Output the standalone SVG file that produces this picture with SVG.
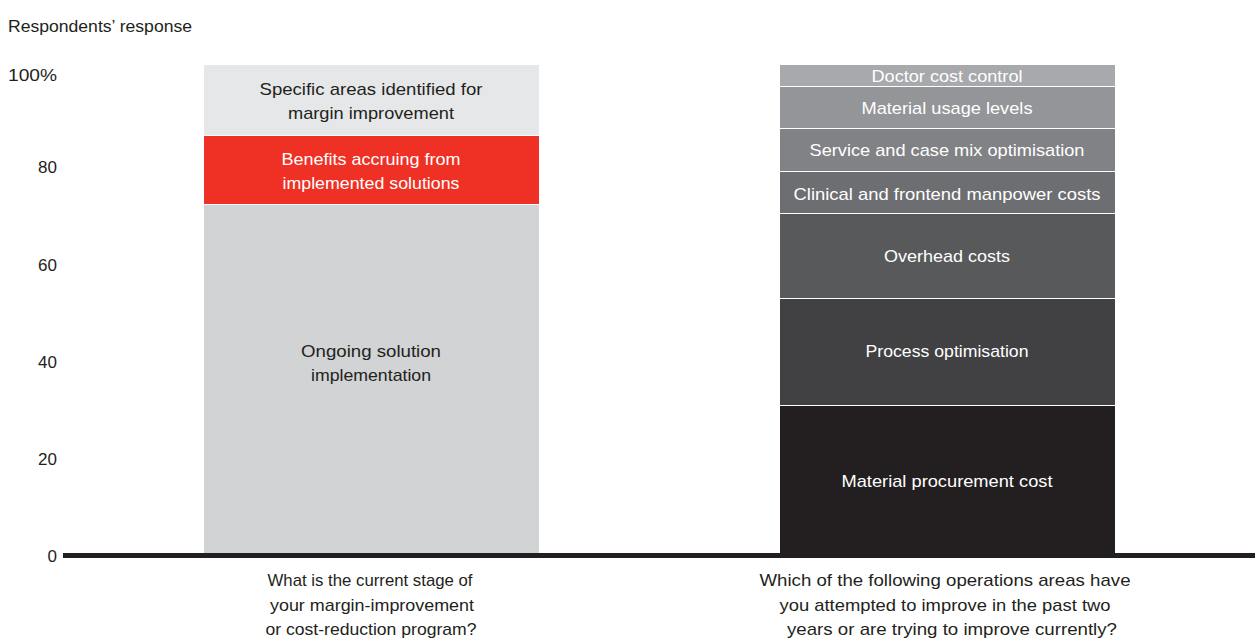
<svg xmlns="http://www.w3.org/2000/svg" width="1255" height="639" viewBox="0 0 1255 639">
<style>
text{font-family:"Liberation Sans",Arial,sans-serif;font-size:17px;text-anchor:middle}
.dk{fill:#231f20}
.wt{fill:#ffffff}
.ax{fill:#231f20;text-anchor:end}
.sep{stroke:#ffffff;stroke-width:2}
</style>
<rect width="1255" height="639" fill="#ffffff"/>
<text class="dk" x="8" y="32" style="text-anchor:start" textLength="184" lengthAdjust="spacingAndGlyphs">Respondents’ response</text>
<g id="yaxis">
<text class="ax" x="57" y="81" textLength="49" lengthAdjust="spacingAndGlyphs">100%</text>
<text class="ax" x="57" y="173">80</text>
<text class="ax" x="57" y="271">60</text>
<text class="ax" x="57" y="368">40</text>
<text class="ax" x="57" y="465">20</text>
<text class="ax" x="57" y="562">0</text>
</g>
<g id="bar-left">
<rect x="204" y="65" width="335" height="70" fill="#e6e7e8"/>
<rect x="204" y="136" width="335" height="68" fill="#ee3124"/>
<rect x="204" y="205" width="335" height="350" fill="#d1d3d4"/>
<text class="dk" x="371" y="95" textLength="223" lengthAdjust="spacingAndGlyphs">Specific areas identified for</text>
<text class="dk" x="371" y="119" textLength="166" lengthAdjust="spacingAndGlyphs">margin improvement</text>
<text class="wt" x="371" y="165" textLength="179" lengthAdjust="spacingAndGlyphs">Benefits accruing from</text>
<text class="wt" x="371" y="189" textLength="177" lengthAdjust="spacingAndGlyphs">implemented solutions</text>
<text class="dk" x="371" y="357" textLength="140" lengthAdjust="spacingAndGlyphs">Ongoing solution</text>
<text class="dk" x="371" y="381" textLength="120" lengthAdjust="spacingAndGlyphs">implementation</text>
</g>
<g id="bar-right">
<rect x="780" y="65" width="335" height="21" fill="#a7a9ac"/>
<rect x="780" y="87" width="335" height="41" fill="#939598"/>
<rect x="780" y="129" width="335" height="42" fill="#808285"/>
<rect x="780" y="172" width="335" height="41" fill="#6d6e71"/>
<rect x="780" y="214" width="335" height="84" fill="#58595b"/>
<rect x="780" y="299" width="335" height="106" fill="#414042"/>
<rect x="780" y="406" width="335" height="149" fill="#231f20"/>
<text class="wt" x="947" y="82" textLength="151" lengthAdjust="spacingAndGlyphs">Doctor cost control</text>
<text class="wt" x="947" y="114" textLength="171" lengthAdjust="spacingAndGlyphs">Material usage levels</text>
<text class="wt" x="947" y="156" textLength="275" lengthAdjust="spacingAndGlyphs">Service and case mix optimisation</text>
<text class="wt" x="947" y="200" textLength="307" lengthAdjust="spacingAndGlyphs">Clinical and frontend manpower costs</text>
<text class="wt" x="947" y="262" textLength="126" lengthAdjust="spacingAndGlyphs">Overhead costs</text>
<text class="wt" x="947" y="357" textLength="163" lengthAdjust="spacingAndGlyphs">Process optimisation</text>
<text class="wt" x="947" y="487" textLength="211" lengthAdjust="spacingAndGlyphs">Material procurement cost</text>
</g>
<g id="connectors">
<rect x="63" y="553" width="1192" height="5" fill="#231f20"/>
</g>
<g id="labels">
<text class="dk" x="370" y="586" textLength="205" lengthAdjust="spacingAndGlyphs">What is the current stage of</text>
<text class="dk" x="372" y="611" textLength="204" lengthAdjust="spacingAndGlyphs">your margin-improvement</text>
<text class="dk" x="371" y="635" textLength="211" lengthAdjust="spacingAndGlyphs">or cost-reduction program?</text>
<text class="dk" x="945" y="586" textLength="371" lengthAdjust="spacingAndGlyphs">Which of the following operations areas have</text>
<text class="dk" x="945" y="611" textLength="331" lengthAdjust="spacingAndGlyphs">you attempted to improve in the past two</text>
<text class="dk" x="952" y="635" textLength="330" lengthAdjust="spacingAndGlyphs">years or are trying to improve currently?</text>
</g>
</svg>
